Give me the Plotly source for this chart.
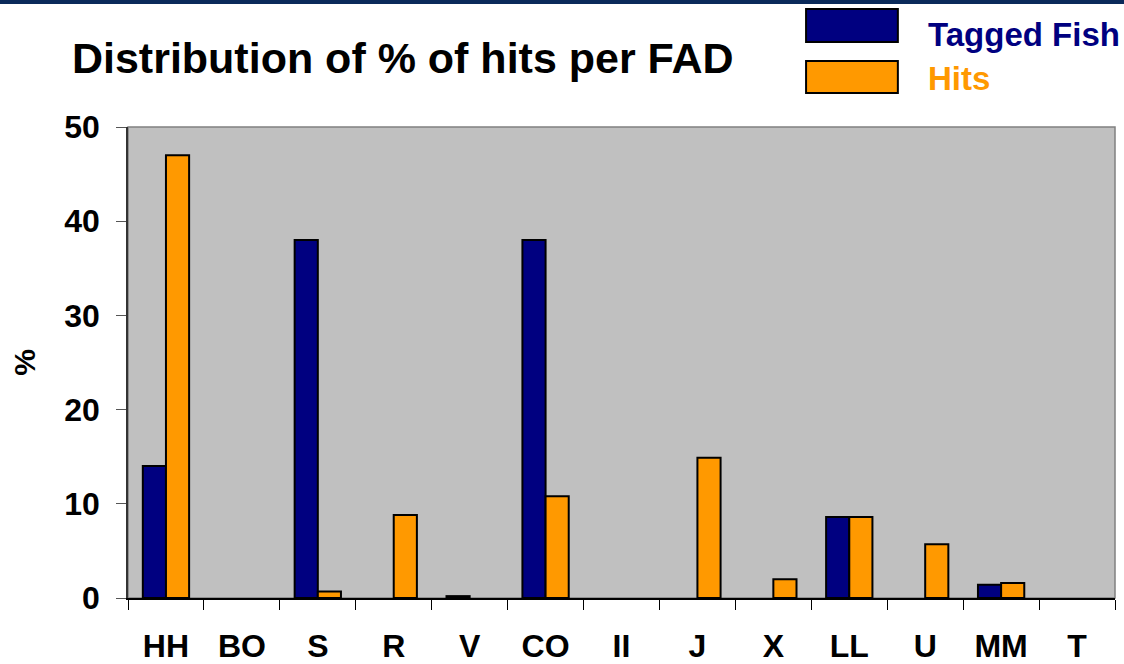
import plotly.graph_objects as go

fads = ['HH', 'BO', 'S', 'R', 'V', 'CO', 'II', 'J', 'X', 'LL', 'U', 'MM', 'T']
tagged_fish = [14, None, 38, None, 0.2, 38, None, None, None, 8.6, None, 1.4, None]
hits = [47, None, 0.7, 8.8, None, 10.8, None, 14.9, 2.0, 8.6, 5.7, 1.6, None]

navy = '#000080'
orange = '#FF9900'
font = 'Arial, Liberation Sans, sans-serif'

fig = go.Figure()
fig.add_trace(go.Bar(x=fads, y=tagged_fish, name='Tagged Fish',
                     marker=dict(color=navy, line=dict(color='black', width=2))))
fig.add_trace(go.Bar(x=fads, y=hits, name='Hits',
                     marker=dict(color=orange, line=dict(color='black', width=2))))

fig.update_layout(
    width=1124, height=664,
    margin=dict(l=128, r=9, t=127, b=66),
    paper_bgcolor='white', plot_bgcolor='#C0C0C0',
    barmode='group', bargap=0.39, bargroupgap=0,
    showlegend=False,
    font=dict(family=font, color='black'),
    title=dict(text='<b>Distribution of % of hits per FAD</b>',
               x=0.064, xanchor='left', y=0.913, yanchor='middle',
               font=dict(size=43, color='black')),
)
fig.update_xaxes(automargin=False, showline=True, linecolor='black', linewidth=1.5,
                 ticks='outside', tickson='boundaries', ticklen=10,
                 tickcolor='black', ticklabelstandoff=19,
                 tickfont=dict(size=32, color='black', family=font),
                 tickprefix='<b>', ticksuffix='</b>')
fig.update_yaxes(automargin=False, range=[0, 50], dtick=10, showgrid=False, zeroline=False,
                 showline=True, linecolor='#333333', linewidth=1.5,
                 ticks='outside', ticklen=10, tickcolor='#555555', ticklabelstandoff=10,
                 tickfont=dict(size=32, color='black', family=font),
                 tickprefix='<b>', ticksuffix='</b>',
                 title=dict(text='<b>%</b>', font=dict(size=30), standoff=20))

# plot border (top/right)
fig.add_shape(type='rect', xref='paper', yref='paper', x0=0, x1=1, y0=0, y1=1,
              line=dict(color='#808080', width=1.5), layer='below')

# top banner line
fig.add_shape(type='rect', xref='paper', yref='paper', x0=-0.13, x1=1.01,
              y0=1.261, y1=1.272, line=dict(width=0), fillcolor='#0A2A5A')

# custom legend
legend = [('Tagged Fish', navy, 1.2505, 1.1805, 1.197),
          ('Hits', orange, 1.140, 1.072, 1.104)]
for name, col, ytop, ybot, ytext in legend:
    fig.add_shape(type='rect', xref='paper', yref='paper',
                  x0=0.687, x1=0.780, y0=ybot, y1=ytop,
                  fillcolor=col, line=dict(color='black', width=2))
    fig.add_annotation(text='<b>' + name + '</b>', xref='paper', yref='paper',
                       x=0.8085, y=ytext, xanchor='left', yanchor='middle',
                       showarrow=False, font=dict(size=33, color=col, family=font))

fig.write_html('out.html', config={'displayModeBar': False},
               post_script="document.body.style.margin='0px';")
